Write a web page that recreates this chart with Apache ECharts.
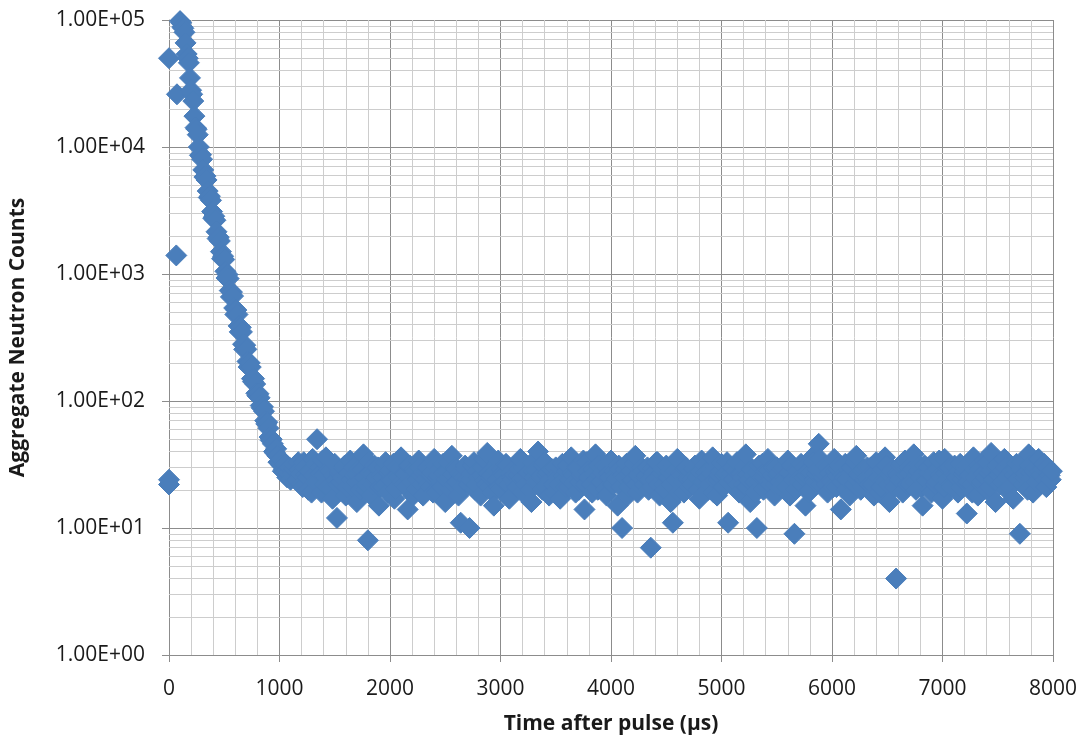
<!DOCTYPE html>
<html>
<head>
<meta charset="utf-8">
<script src="https://cdn.jsdelivr.net/npm/echarts@6/dist/echarts.min.js"></script>
<style>
  html, body { margin: 0; padding: 0; background: #ffffff; }
  #chart { width: 1089px; height: 744px; }
</style>
</head>
<body>
<div id="chart"></div>
<script>
// Leading samples recorded off the regular bin grid: time (μs) and counts
const leadTimes  = [0, 0, 0, 66, 72];
const leadCounts = [50000, 24, 22, 1400, 26000];

// Die-away part: 10 μs bins, 100 μs .. 1100 μs
const DECAY_START = 100;
const DECAY_STEP = 10;
const decayCounts = [
  98000, 95000, 88000, 86000, 80000, 66000, 54000, 50000, 46000, 35000,
  28000, 26000, 23000, 17500, 14200, 13800, 12500, 10000, 8600, 8700,
  8000, 6600, 5800, 5900, 5500, 4500, 4000, 4100, 3800, 3100,
  2750, 2850, 2650, 2150, 1900, 1950, 1820, 1500, 1320, 1380,
  1300, 1050, 930, 990, 920, 740, 660, 720, 670, 540,
  480, 520, 480, 390, 350, 380, 350, 280, 255, 275,
  255, 205, 185, 200, 185, 150, 142, 150, 136, 115,
  110, 114, 106, 92, 88, 90, 83, 70, 66, 68,
  61, 52, 49, 50, 46, 40, 39, 42, 37, 33,
  33, 35, 31, 28, 29, 32, 28, 25, 27, 30,
  24
];

// Background level, even bins: 1120 μs .. 7980 μs every 20 μs
const BG_EVEN_START = 1120;
const BG_STEP = 20;
const backgroundEven = [
  27, 31, 24, 29, 22, 33, 26, 20, 28, 35, 23, 50, 30, 19, 26, 36, 21, 28, 17, 32,
  12, 27, 23, 30, 18, 25, 34, 21, 26, 16, 29, 24, 38, 20, 8, 27, 22, 31, 25, 15,
  26, 21, 33, 19, 28, 24, 17, 30, 25, 36, 22, 27, 14, 31, 23, 29, 20, 34, 26, 18,
  24, 30, 21, 27, 35, 19, 26, 23, 32, 16, 28, 25, 37, 22, 29, 18, 11, 26, 31, 24,
  10, 27, 33, 22, 25, 18, 30, 24, 39, 21, 26, 15, 28, 34, 20, 27, 23, 31, 17, 25,
  29, 22, 26, 35, 19, 24, 31, 27, 16, 28, 23, 40, 25, 20, 33, 26, 18, 29, 22, 30,
  25, 17, 32, 24, 28, 21, 36, 26, 19, 30, 23, 27, 14, 33, 25, 22, 29, 38, 20, 26,
  23, 31, 18, 27, 34, 22, 26, 15, 29, 10, 25, 32, 21, 28, 24, 37, 19, 27, 30, 22,
  26, 20, 7, 29, 24, 33, 18, 27, 22, 31, 25, 16, 11, 28, 35, 23, 26, 19, 30, 24,
  28, 22, 31, 25, 17, 34, 23, 27, 20, 29, 36, 24, 18, 26, 32, 21, 27, 11, 25, 30,
  24, 33, 19, 27, 22, 38, 26, 16, 29, 23, 10, 31, 25, 20, 28, 35, 22, 26, 18, 30,
  27, 21, 30, 24, 34, 18, 26, 9, 29, 23, 32, 25, 15, 28, 20, 36, 24, 27, 46, 22,
  25, 31, 19, 27, 23, 35, 21, 29, 14, 26, 32, 24, 18, 30, 22, 37, 27, 20, 28, 24,
  30, 22, 27, 18, 33, 25, 21, 29, 36, 24, 16, 28, 23, 4, 26, 31, 19, 34, 22, 27,
  23, 38, 20, 28, 25, 15, 31, 24, 27, 19, 33, 22, 29, 26, 17, 35, 24, 30, 21, 27,
  26, 19, 32, 24, 28, 13, 30, 22, 36, 25, 18, 29, 23, 34, 20, 27, 39, 24, 16, 31,
  22, 28, 35, 20, 26, 31, 17, 29, 24, 9, 33, 25, 21, 38, 27, 19, 30, 23, 28, 26,
  32, 21, 27, 24
];

// Background level, odd bins: 1130 μs .. 7990 μs every 20 μs
const BG_ODD_START = 1130;
const backgroundOdd = [
  29, 24, 33, 27, 21, 30, 25, 28, 19, 26, 32, 23, 27, 34, 22, 25, 29, 20, 26, 24,
  22, 28, 25, 31, 21, 27, 24, 30, 23, 26, 20, 29, 25, 22, 33, 18, 27, 24, 30, 21,
  25, 30, 22, 27, 24, 32, 20, 26, 29, 23, 27, 21, 31, 25, 18, 28, 24, 30, 22, 27,
  28, 22, 26, 19, 31, 25, 29, 21, 27, 24, 33, 20, 26, 30, 23, 27, 21, 25, 29, 22,
  24, 31, 20, 28, 23, 26, 35, 22, 27, 25, 19, 30, 24, 21, 29, 26, 32, 22, 27, 24,
  26, 21, 29, 24, 30, 22, 27, 20, 33, 25, 28, 23, 26, 31, 21, 27, 24, 29, 19, 26,
  22, 29, 26, 21, 31, 24, 27, 23, 30, 20, 26, 34, 22, 28, 25, 19, 27, 24, 31, 23,
  27, 20, 30, 25, 22, 28, 24, 31, 21, 26, 29, 18, 27, 24, 32, 22, 26, 21, 28, 25,
  30, 24, 21, 27, 33, 22, 26, 29, 20, 25, 28, 22, 31, 24, 19, 27, 23, 29, 25, 21,
  24, 29, 26, 20, 28, 23, 31, 25, 22, 27, 19, 30, 24, 28, 21, 26, 33, 23, 27, 24,
  28, 22, 27, 25, 30, 21, 24, 29, 26, 19, 27, 23, 32, 25, 21, 28, 24, 30, 22, 26,
  23, 29, 25, 21, 27, 31, 24, 20, 28, 25, 22, 30, 26, 19, 27, 33, 23, 29, 35, 25,
  27, 22, 30, 24, 21, 28, 26, 31, 23, 25, 20, 29, 27, 22, 33, 24, 26, 21, 29, 25,
  24, 30, 22, 27, 25, 19, 28, 24, 31, 22, 26, 29, 21, 27, 24, 32, 23, 26, 30, 22,
  29, 23, 26, 31, 21, 27, 24, 30, 20, 26, 28, 23, 34, 25, 21, 27, 29, 22, 26, 31,
  25, 28, 21, 27, 30, 23, 26, 19, 29, 24, 31, 22, 27, 25, 33, 21, 28, 24, 30, 26,
  27, 23, 30, 25, 21, 28, 26, 32, 24, 29, 22, 27, 20, 31, 25, 28, 23, 35, 26, 29,
  24, 30, 26, 28
];

// Axis settings
const X_MIN = 0, X_MAX = 8000, X_STEP = 1000;
const Y_MIN = 1, Y_MAX = 100000;

const AXIS_FONT = "'Open Sans', 'Liberation Sans', sans-serif";
const MARKER = '#4A7EBB';
const MAJOR_GRID = '#8C8C8C';
const MINOR_GRID = '#CDCDCD';

// Assemble [time, counts] points
const points = [];
leadTimes.forEach((t, i) => points.push([t, leadCounts[i]]));
decayCounts.forEach((c, i) => points.push([DECAY_START + i * DECAY_STEP, c]));
backgroundEven.forEach((c, i) => {
  points.push([BG_EVEN_START + i * BG_STEP, c]);
  if (i < backgroundOdd.length) points.push([BG_ODD_START + i * BG_STEP, backgroundOdd[i]]);
});

// Log-axis minor grid positions (2..9 within each decade)
const minorY = [];
for (let d = Y_MIN; d < Y_MAX; d *= 10) {
  for (let k = 2; k <= 9; k++) minorY.push({ yAxis: k * d });
}

function sciLabel(v) {
  const e = Math.round(Math.log10(v));
  const m = v / Math.pow(10, e);
  return m.toFixed(2) + 'E+' + String(e).padStart(2, '0');
}

const chart = echarts.init(document.getElementById('chart'), null, { renderer: 'canvas' });

chart.setOption({
  animation: false,
  backgroundColor: '#ffffff',
  grid: { left: 167, right: 36, top: 20, bottom: 89, containLabel: false },
  xAxis: {
    type: 'value',
    min: X_MIN, max: X_MAX, interval: X_STEP,
    name: 'Time after pulse (\u03bcs)',
    nameLocation: 'middle',
    nameGap: 59,
    nameTextStyle: { fontFamily: AXIS_FONT, fontWeight: 'bold', fontSize: 21, color: '#1a1a1a' },
    axisLine: { show: true, lineStyle: { color: MAJOR_GRID, width: 1 } },
    axisTick: { show: true, inside: false, length: 7, lineStyle: { color: MAJOR_GRID } },
    axisLabel: { fontFamily: AXIS_FONT, fontSize: 21, color: '#1a1a1a', margin: 24,
                 formatter: v => String(v) },
    splitLine: { show: true, lineStyle: { color: MAJOR_GRID, width: 1 } },
    minorTick: { show: false, splitNumber: 5 },
    minorSplitLine: { show: true, lineStyle: { color: MINOR_GRID, width: 1 } }
  },
  yAxis: {
    type: 'log',
    logBase: 10,
    min: Y_MIN, max: Y_MAX,
    name: 'Aggregate Neutron Counts',
    nameLocation: 'middle',
    nameGap: 140,
    nameTextStyle: { fontFamily: AXIS_FONT, fontWeight: 'bold', fontSize: 21, color: '#1a1a1a' },
    axisLine: { show: true, lineStyle: { color: MAJOR_GRID, width: 1 } },
    axisTick: { show: true, inside: false, length: 7, lineStyle: { color: MAJOR_GRID } },
    axisLabel: { fontFamily: AXIS_FONT, fontSize: 21, color: '#1a1a1a', margin: 24, formatter: sciLabel },
    splitLine: { show: true, lineStyle: { color: MAJOR_GRID, width: 1 } }
  },
  series: [
    {
      // minor horizontal grid for the log scale, kept beneath the markers
      type: 'scatter',
      data: [],
      silent: true,
      z: 1,
      markLine: {
        silent: true,
        z: 1,
        symbol: 'none',
        label: { show: false },
        lineStyle: { color: MINOR_GRID, width: 1, type: 'solid' },
        data: minorY
      }
    },
    {
      name: 'Counts',
      type: 'scatter',
      symbol: 'diamond',
      symbolSize: 21,
      z: 3,
      emphasis: { disabled: true },
      itemStyle: { color: MARKER, opacity: 1, borderColor: MARKER, borderWidth: 1 },
      data: points
    }
  ]
});
</script>
</body>
</html>
